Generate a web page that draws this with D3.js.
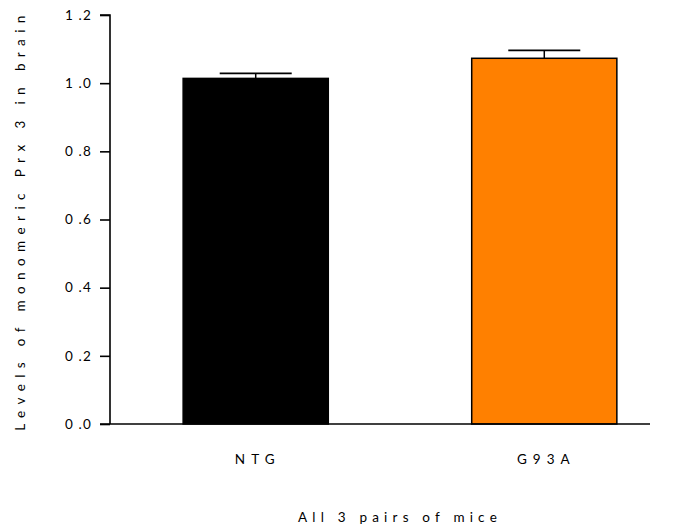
<!DOCTYPE html>
<html>
<head>
<meta charset="utf-8">
<script src="https://cdn.jsdelivr.net/npm/d3@7"></script>
<style>
  body { margin: 0; background: #fff; }
  text { font-family: Lato, "Open Sans", sans-serif; fill: #000; }
</style>
</head>
<body>
<svg id="chart" width="681" height="526"></svg>
<script>
// Prx 3 monomer levels per genotype (mean and SEM)
const groups = ["NTG", "G93A"];
const means = [1.014, 1.073];
const sems = [0.015, 0.023];
const colors = ["#000000", "#ff8000"];
const yTicks = [0.0, 0.2, 0.4, 0.6, 0.8, 1.0, 1.2];

const svg = d3.select("#chart");
const plotLeft = 110, plotRight = 650, plotTop = 15, plotBottom = 424;

const y = d3.scaleLinear().domain([0, 1.2]).range([plotBottom, plotTop]);
const x = d3.scaleBand().domain(groups).range([111, 689])
  .paddingInner(0.497).paddingOuter(0.25);

// y axis
const yAxis = d3.axisLeft(y).tickValues(yTicks).tickSize(10).tickPadding(8)
  .tickFormat(d => d3.format(".1f")(d).replace(".", " ."));
const gy = svg.append("g").attr("transform", `translate(${plotLeft},0)`).call(yAxis);
gy.select(".domain").attr("stroke-width", 1.6).attr("d", `M-10,${plotTop}H0V${plotBottom}`);
gy.selectAll(".tick line").attr("stroke-width", 1.6);
gy.selectAll(".tick text")
  .style("font-size", "13.5px")
  .style("letter-spacing", "1.2px")
  .style("font-family", "Lato, sans-serif")
  .attr("fill", "#000");

// bars
svg.selectAll("rect.bar").data(groups).join("rect")
  .attr("class", "bar")
  .attr("x", d => x(d))
  .attr("width", x.bandwidth())
  .attr("y", (d, i) => y(means[i]))
  .attr("height", (d, i) => y(0) - y(means[i]))
  .attr("fill", (d, i) => colors[i])
  .attr("stroke", "#000")
  .attr("stroke-width", 1.5);

// upper error bars
const capW = 72;
groups.forEach((g, i) => {
  const cx = x(g) + x.bandwidth() / 2;
  svg.append("line")
    .attr("x1", cx).attr("x2", cx)
    .attr("y1", y(means[i])).attr("y2", y(means[i] + sems[i]))
    .attr("stroke", "#000").attr("stroke-width", 1.5);
  svg.append("line")
    .attr("x1", cx - capW / 2).attr("x2", cx + capW / 2)
    .attr("y1", y(means[i] + sems[i])).attr("y2", y(means[i] + sems[i]))
    .attr("stroke", "#000").attr("stroke-width", 1.8);
});

// x axis baseline
svg.append("line")
  .attr("x1", plotLeft - 10).attr("x2", plotRight)
  .attr("y1", y(0)).attr("y2", y(0))
  .attr("stroke", "#000").attr("stroke-width", 1.6);

// category labels
svg.selectAll("text.cat").data(groups).join("text")
  .attr("class", "cat")
  .attr("x", d => x(d) + x.bandwidth() / 2 + 2)
  .attr("y", 464)
  .attr("text-anchor", "middle")
  .style("font-size", "13.5px")
  .style("letter-spacing", "6px")
  .text(d => d);

// x axis title
svg.append("text")
  .attr("x", 400).attr("y", 522)
  .attr("text-anchor", "middle")
  .style("font-size", "13.5px")
  .style("letter-spacing", "5.2px")
  .text("All 3 pairs of mice");

// y axis title
svg.append("text")
  .attr("transform", "translate(25,220) rotate(-90)")
  .attr("text-anchor", "middle")
  .style("font-size", "13.5px")
  .style("letter-spacing", "6.4px")
  .text("Levels of monomeric Prx 3 in brain");
</script>
</body>
</html>
